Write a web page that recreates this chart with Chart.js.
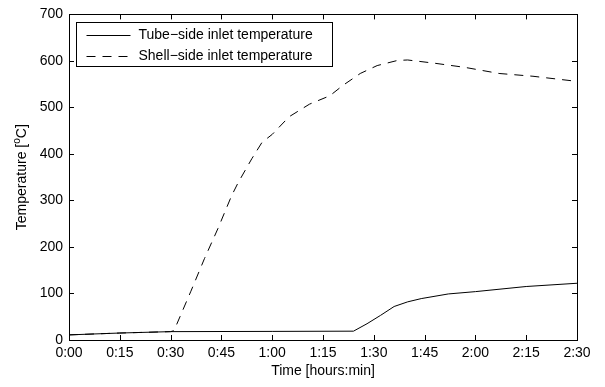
<!DOCTYPE html>
<html>
<head>
<meta charset="utf-8">
<script src="https://cdn.jsdelivr.net/npm/chart.js@4"></script>
<style>
  body { margin: 0; background: #fff; }
  #wrap { width: 605px; height: 387px; }
</style>
</head>
<body>
<div id="wrap"><canvas id="c"></canvas></div>
<script>
// time in minutes, temperature in degC
const tubeTimes = [0, 15, 30, 60, 84, 88, 92, 96, 100, 104, 112, 120, 135, 150];
const tubeTemps = [11, 15, 18, 18.5, 19, 35, 53, 72, 82, 89, 99, 104, 115, 122];

const shellTimes = [0, 15, 30, 31, 36, 40, 44, 48, 50, 54, 57, 60, 65, 71, 77, 81, 86, 91, 97, 100, 108, 117, 127, 137, 150];
const shellTemps = [11, 15, 18, 20, 105, 175, 240, 310, 339, 390, 425, 442, 480, 507, 525, 548, 573, 590, 601, 602, 595, 586, 573, 567, 556];

const seriesLabels = ['Tube\u2212side inlet temperature', 'Shell\u2212side inlet temperature'];
const yTitle = ['Temperature [', 'o', 'C]'];

const FONT = 'Liberation Sans, Arial, Helvetica, sans-serif';
const FS = 14;

function toXY(xs, ys) {
  return xs.map((x, i) => ({ x: x, y: ys[i] }));
}

function fmtTime(v) {
  const h = Math.floor(v / 60);
  const m = Math.round(v % 60);
  return h + ':' + (m < 10 ? '0' + m : m);
}

// matlab style box with inward ticks on all four sides, legend and ylabel
const frame = {
  id: 'frame',
  afterDatasetsDraw(chart) {
    const { ctx, chartArea: a, scales } = chart;
    const len = 5;
    ctx.save();
    ctx.strokeStyle = '#000';
    ctx.lineWidth = 1;
    ctx.beginPath();
    scales.x.ticks.forEach(t => {
      const px = Math.round(scales.x.getPixelForValue(t.value)) + 0.5;
      ctx.moveTo(px, a.bottom); ctx.lineTo(px, a.bottom - len);
      ctx.moveTo(px, a.top); ctx.lineTo(px, a.top + len);
    });
    scales.y.ticks.forEach(t => {
      const py = Math.round(scales.y.getPixelForValue(t.value)) + 0.5;
      ctx.moveTo(a.left, py); ctx.lineTo(a.left + len, py);
      ctx.moveTo(a.right, py); ctx.lineTo(a.right - len, py);
    });
    ctx.stroke();
    ctx.strokeRect(Math.round(a.left) + 0.5, Math.round(a.top) + 0.5,
                   Math.round(a.right - a.left), Math.round(a.bottom - a.top));

    // legend inside the axes
    const bx = Math.round(a.left) + 7.5, by = Math.round(a.top) + 8.5;
    const bw = 256, bh = 44;
    ctx.fillStyle = '#fff';
    ctx.fillRect(bx, by, bw, bh);
    ctx.strokeRect(bx, by, bw, bh);
    ctx.font = FS + 'px ' + FONT;
    ctx.textBaseline = 'middle';
    ctx.fillStyle = '#000';
    chart.data.datasets.forEach((ds, i) => {
      const y = Math.round(by + 12 + i * 21.5) + 0.5;
      ctx.setLineDash(ds.borderDash || []);
      ctx.beginPath();
      ctx.moveTo(bx + 10, y); ctx.lineTo(bx + 54, y);
      ctx.stroke();
      ctx.setLineDash([]);
      ctx.fillText(ds.label, bx + 62, y);
    });

    // y label with superscript o
    const big = FS + 'px ' + FONT, small = Math.round(FS * 0.7) + 'px ' + FONT;
    ctx.font = big;
    const w0 = ctx.measureText(yTitle[0]).width, w2 = ctx.measureText(yTitle[2]).width;
    ctx.font = small;
    const w1 = ctx.measureText(yTitle[1]).width;
    const total = w0 + w1 + w2;
    ctx.translate(22, (a.top + a.bottom) / 2);
    ctx.rotate(-Math.PI / 2);
    ctx.textAlign = 'left';
    ctx.textBaseline = 'middle';
    let x = -total / 2;
    ctx.font = big; ctx.fillText(yTitle[0], x, 0); x += w0;
    ctx.font = small; ctx.fillText(yTitle[1], x, -5); x += w1;
    ctx.font = big; ctx.fillText(yTitle[2], x, 0);
    ctx.restore();
  }
};

new Chart(document.getElementById('c'), {
  type: 'scatter',
  data: {
    datasets: [
      {
        label: seriesLabels[0],
        data: toXY(tubeTimes, tubeTemps),
        showLine: true,
        borderColor: '#000',
        borderWidth: 1,
        pointRadius: 0,
        tension: 0
      },
      {
        label: seriesLabels[1],
        data: toXY(shellTimes, shellTemps),
        showLine: true,
        borderColor: '#000',
        borderWidth: 1,
        borderDash: [9, 7],
        pointRadius: 0,
        tension: 0
      }
    ]
  },
  options: {
    responsive: true,
    maintainAspectRatio: false,
    animation: false,
    layout: { padding: { left: 0, right: 28, top: 9, bottom: 0 } },
    plugins: {
      legend: { display: false },
      tooltip: { enabled: false }
    },
    scales: {
      x: {
        type: 'linear',
        min: 0, max: 150,
        grid: { display: false, drawTicks: false },
        border: { display: false },
        ticks: {
          stepSize: 15,
          padding: 5,
          color: '#000',
          font: { family: FONT, size: FS },
          callback: v => fmtTime(v),
          maxRotation: 0
        },
        title: {
          display: true,
          text: 'Time [hours:min]',
          color: '#000',
          font: { family: FONT, size: FS },
          padding: { top: 0, bottom: 7 }
        },
        afterFit: s => { s.height = 47; }
      },
      y: {
        min: 0, max: 700,
        grid: { display: false, drawTicks: false },
        border: { display: false },
        ticks: {
          stepSize: 100,
          padding: 6,
          color: '#000',
          font: { family: FONT, size: FS }
        },
        afterFit: s => { s.width = 69; }
      }
    }
  },
  plugins: [frame]
});
</script>
</body>
</html>
